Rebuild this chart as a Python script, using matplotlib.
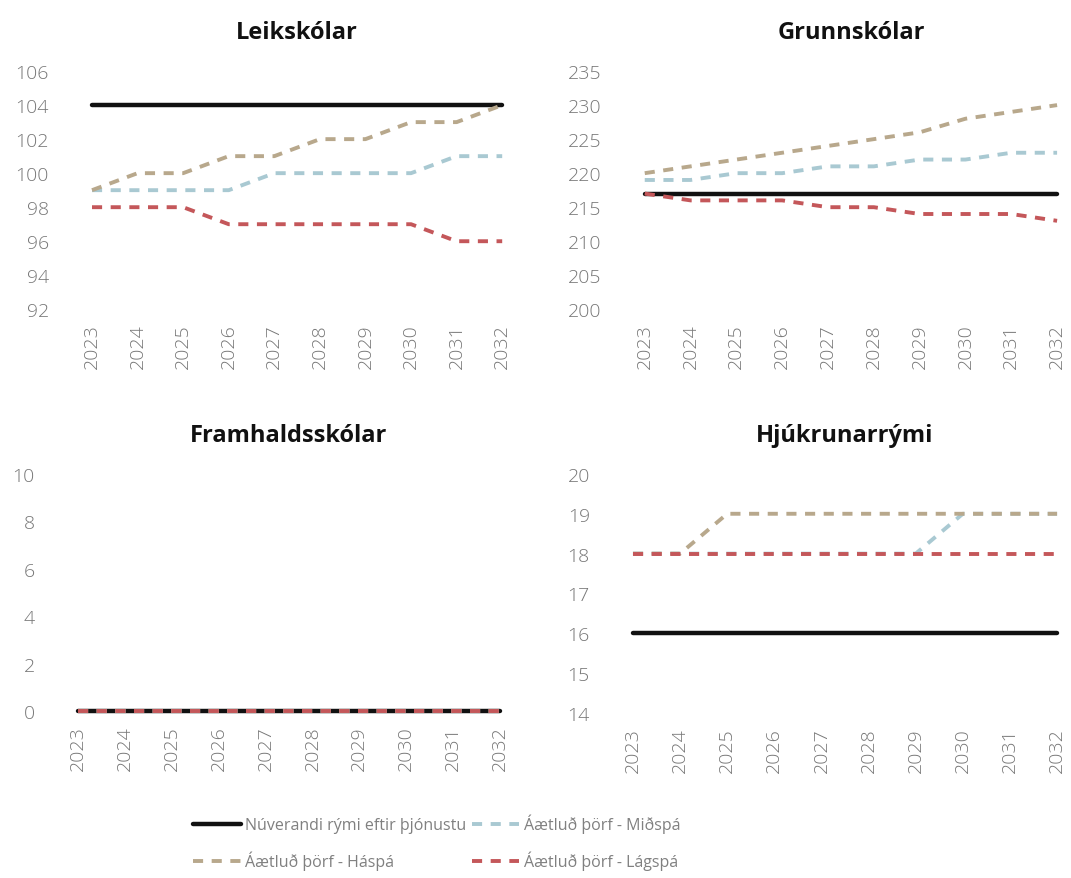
import matplotlib.pyplot as plt
import numpy as np

plt.rcParams['font.family'] = ['Open Sans', 'DejaVu Sans']

years = np.arange(2023, 2033)

# Leikskólar
leik_nuv = [104] * 10
leik_ha = [99, 100, 100, 101, 101, 102, 102, 103, 103, 104]
leik_mid = [99, 99, 99, 99, 100, 100, 100, 100, 101, 101]
leik_la = [98, 98, 98, 97, 97, 97, 97, 97, 96, 96]

# Grunnskólar
grunn_nuv = [217] * 10
grunn_ha = [220, 221, 222, 223, 224, 225, 226, 228, 229, 230]
grunn_mid = [219, 219, 220, 220, 221, 221, 222, 222, 223, 223]
grunn_la = [217, 216, 216, 216, 215, 215, 214, 214, 214, 213]

# Framhaldsskólar
fram_nuv = [0] * 10
fram_ha = [0] * 10
fram_mid = [0] * 10
fram_la = [0] * 10

# Hjúkrunarrými
hjuk_nuv = [16] * 10
hjuk_ha = [18, 18, 19, 19, 19, 19, 19, 19, 19, 19]
hjuk_mid = [18, 18, 18, 18, 18, 18, 18, 19, 19, 19]
hjuk_la = [18] * 10

labels = ['Núverandi rými eftir þjónustu', 'Áætluð þörf - Miðspá',
          'Áætluð þörf - Háspá', 'Áætluð þörf - Lágspá']
c_nuv = '#111111'
c_mid = '#a9c9d2'
c_ha = '#b8a88c'
c_la = '#c4575a'
tick_col = '#777777'

fig = plt.figure(figsize=(10.71, 8.79), dpi=100)

panels = [
    ('Leikskólar', [0.0859, 0.647, 0.383, 0.271], leik_nuv, leik_mid, leik_ha, leik_la, (92, 106), np.arange(92, 107, 2)),
    ('Grunnskólar', [0.602, 0.647, 0.385, 0.271], grunn_nuv, grunn_mid, grunn_ha, grunn_la, (200, 235), np.arange(200, 236, 5)),
    ('Framhaldsskólar', [0.0728, 0.19, 0.394, 0.2696], fram_nuv, fram_mid, fram_ha, fram_la, (0, 10), np.arange(0, 11, 2)),
    ('Hjúkrunarrými', [0.591, 0.1877, 0.396, 0.272], hjuk_nuv, hjuk_mid, hjuk_ha, hjuk_la, (14, 20), np.arange(14, 21, 1)),
]

dash = (0, (2.6, 2.2))
handles = []
for title, pos, nuv, mid, ha, la, ylim, yt in panels:
    ax = fig.add_axes(pos)
    h1, = ax.plot(years, nuv, color=c_nuv, lw=3.2, solid_capstyle='round', clip_on=False, zorder=2)
    h2, = ax.plot(years, mid, color=c_mid, lw=2.8, ls=dash, clip_on=False, zorder=3)
    h3, = ax.plot(years, ha, color=c_ha, lw=2.8, ls=dash, clip_on=False, zorder=4)
    h4, = ax.plot(years, la, color=c_la, lw=2.8, ls=dash, clip_on=False, zorder=5)
    handles = [h1, h3, h2, h4]
    ax.set_xlim(2023, 2032)
    ax.set_ylim(*ylim)
    ax.set_yticks(yt)
    ax.set_xticks(years)
    ax.set_xticklabels([str(y) for y in years], rotation=90)
    ax.tick_params(length=0, labelsize=14, colors=tick_col)
    ax.tick_params(axis='y', pad=31)
    ax.tick_params(axis='x', pad=10)
    for lab in ax.get_xticklabels() + ax.get_yticklabels():
        lab.set_fontweight('light')
    for s in ax.spines.values():
        s.set_visible(False)
    ax.set_title(title, fontsize=17, fontweight='bold', color='#111111', pad=24)

fig.legend(handles, [labels[0], labels[2], labels[1], labels[3]], ncol=2,
           loc='center left', bbox_to_anchor=(0.18, 0.041), frameon=False,
           fontsize=11.5, labelcolor='#808080', handlelength=3.0,
           handletextpad=0.3, columnspacing=0.3, labelspacing=1.1,
           borderaxespad=0, borderpad=0)

fig.savefig('out.png', dpi=100)
